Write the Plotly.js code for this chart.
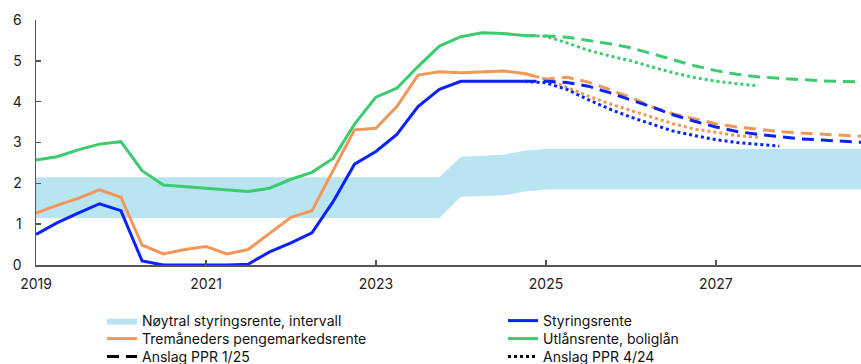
<!DOCTYPE html>
<html>
<head>
<meta charset="utf-8">
<script src="https://cdn.plot.ly/plotly-3.0.1.min.js"></script>
<style>
  html, body { margin: 0; padding: 0; background: #ffffff; }
  #chart { width: 861px; height: 364px; }
</style>
</head>
<body>
<div id="chart"></div>
<script>
// ---------- DATA ----------
const histDates = [
  '2019-01-01','2019-04-01','2019-07-01','2019-10-01',
  '2020-01-01','2020-04-01','2020-07-01','2020-10-01',
  '2021-01-01','2021-04-01','2021-07-01','2021-10-01',
  '2022-01-01','2022-04-01','2022-07-01','2022-10-01',
  '2023-01-01','2023-04-01','2023-07-01','2023-10-01',
  '2024-01-01','2024-04-01','2024-07-01','2024-10-01'
];
const styringsrente = [0.75, 1.03, 1.27, 1.50, 1.33, 0.10, 0.00, 0.00,
                       0.00, 0.00, 0.02, 0.32, 0.54, 0.79, 1.55, 2.47,
                       2.78, 3.20, 3.88, 4.30, 4.50, 4.50, 4.50, 4.50];
const tremaaneders = [1.27, 1.46, 1.63, 1.84, 1.66, 0.49, 0.27, 0.38,
                      0.45, 0.27, 0.38, 0.78, 1.17, 1.33, 2.33, 3.31,
                      3.35, 3.88, 4.65, 4.73, 4.71, 4.73, 4.75, 4.69];
const utlaansrente = [2.57, 2.65, 2.82, 2.96, 3.02, 2.31, 1.96, 1.92,
                      1.88, 1.84, 1.80, 1.88, 2.10, 2.27, 2.61, 3.45,
                      4.11, 4.33, 4.86, 5.36, 5.59, 5.69, 5.67, 5.62];

// Forecasts PPR 1/25 (from 2024 Q4 to 2028 Q4)
const ppr125Dates = [
  '2024-10-01',
  '2025-01-01','2025-04-01','2025-07-01','2025-10-01',
  '2026-01-01','2026-04-01','2026-07-01','2026-10-01',
  '2027-01-01','2027-04-01','2027-07-01','2027-10-01',
  '2028-01-01','2028-04-01','2028-07-01','2028-10-01'
];
const ppr125Styring = [4.50, 4.50, 4.47, 4.38, 4.22, 4.05, 3.87, 3.68, 3.52,
                       3.38, 3.27, 3.20, 3.14, 3.09, 3.06, 3.03, 3.00];
const ppr125Trem    = [4.69, 4.55, 4.60, 4.48, 4.30, 4.10, 3.88, 3.70, 3.58,
                       3.46, 3.38, 3.32, 3.27, 3.23, 3.20, 3.17, 3.15];
const ppr125Utlaan  = [5.62, 5.61, 5.58, 5.50, 5.42, 5.32, 5.18, 5.03, 4.88,
                       4.76, 4.67, 4.61, 4.57, 4.54, 4.51, 4.49, 4.48];

// Forecasts PPR 4/24
const ppr424Dates = [
  '2024-10-01',
  '2025-01-01','2025-04-01','2025-07-01','2025-10-01',
  '2026-01-01','2026-04-01','2026-07-01','2026-10-01',
  '2027-01-01','2027-04-01','2027-07-01','2027-10-01'
];
const ppr424Styring = [4.50, 4.46, 4.30, 4.05, 3.82, 3.62, 3.45, 3.28, 3.17,
                       3.07, 3.00, 2.95, 2.91];
const ppr424Trem    = [4.69, 4.55, 4.35, 4.14, 3.95, 3.78, 3.62, 3.46, 3.33,
                       3.24, 3.17, 3.13];
const ppr424Utlaan  = [5.62, 5.60, 5.44, 5.26, 5.12, 5.00, 4.85, 4.71, 4.59,
                       4.50, 4.44, 4.39];

// Neutral policy rate interval
const bandDates = [
  '2019-01-01','2023-10-01','2024-01-01','2024-04-01','2024-07-01','2024-10-01',
  '2025-01-01','2028-10-01'
];
const bandLower = [1.15, 1.15, 1.67, 1.69, 1.70, 1.80, 1.85, 1.85];
const bandUpper = [2.15, 2.15, 2.65, 2.68, 2.70, 2.80, 2.84, 2.84];

const legendNames = {
  band: 'Nøytral styringsrente, intervall',
  styr: 'Styringsrente',
  trem: 'Tremåneders pengemarkedsrente',
  utl: 'Utlånsrente, boliglån',
  p125: 'Anslag PPR 1/25',
  p424: 'Anslag PPR 4/24'
};

// ---------- STYLE ----------
const cBlue = '#0a22ff';
const cOrange = '#f2975a';
const cGreen = '#3ccb6e';
const cBand = '#b8e5f1';
const lw = 3;
const dashed = '12px,7px';
const dotted = '3px,3px';

const traces = [
  // band
  { x: bandDates, y: bandLower, type: 'scatter', mode: 'lines',
    line: { width: 0, color: cBand }, showlegend: false, hoverinfo: 'skip' },
  { x: bandDates, y: bandUpper, type: 'scatter', mode: 'lines', fill: 'tonexty',
    fillcolor: cBand, line: { width: 0, color: cBand },
    name: legendNames.band, legend: 'legend' },

  // forecasts PPR 4/24 (dotted)
  { x: ppr424Dates, y: ppr424Utlaan, mode: 'lines', line: { color: cGreen, width: lw, dash: dotted }, showlegend: false },
  { x: ppr424Dates, y: ppr424Trem, mode: 'lines', line: { color: cOrange, width: lw, dash: dotted }, showlegend: false },
  { x: ppr424Dates, y: ppr424Styring, mode: 'lines', line: { color: cBlue, width: lw, dash: dotted }, showlegend: false },

  // forecasts PPR 1/25 (dashed)
  { x: ppr125Dates, y: ppr125Utlaan, mode: 'lines', line: { color: cGreen, width: lw, dash: dashed }, showlegend: false },
  { x: ppr125Dates, y: ppr125Trem, mode: 'lines', line: { color: cOrange, width: lw, dash: dashed }, showlegend: false },
  { x: ppr125Dates, y: ppr125Styring, mode: 'lines', line: { color: cBlue, width: lw, dash: dashed }, showlegend: false },

  // history
  { x: histDates, y: utlaansrente, mode: 'lines', line: { color: cGreen, width: lw },
    name: legendNames.utl, legend: 'legend5' },
  { x: histDates, y: tremaaneders, mode: 'lines', line: { color: cOrange, width: lw },
    name: legendNames.trem, legend: 'legend2' },
  { x: histDates, y: styringsrente, mode: 'lines', line: { color: cBlue, width: lw },
    name: legendNames.styr, legend: 'legend4' },

  // legend-only entries
  { x: [null], y: [null], mode: 'lines', line: { color: '#000000', width: lw, dash: dashed },
    name: legendNames.p125, legend: 'legend3' },
  { x: [null], y: [null], mode: 'lines', line: { color: '#000000', width: lw, dash: dotted },
    name: legendNames.p424, legend: 'legend6' }
];

const fontFam = 'Inter, "Liberation Sans", Arial, sans-serif';
const legendFont = { family: fontFam, size: 14, color: '#111111' };

// legend placement (pixel positions converted to paper coords)
const plotL = 36, plotW = 825, plotB = 265, plotH = 245;
function mkLegend(px, py) {
  return {
    x: (px - plotL) / plotW, y: (plotB - py) / plotH,
    xanchor: 'left', yanchor: 'middle',
    orientation: 'v', bgcolor: 'rgba(0,0,0,0)', borderwidth: 0,
    font: legendFont, tracegroupgap: 0, itemwidth: 30
  };
}
const col1 = 102, col2 = 503;
const row1 = 321, row2 = 339, row3 = 357;

const layout = {
  width: 861, height: 364,
  margin: { l: 36, r: 0, t: 20, b: 99, autoexpand: false },
  paper_bgcolor: '#ffffff', plot_bgcolor: '#ffffff',
  font: { family: fontFam, size: 14, color: '#222222' },
  showlegend: true,
  xaxis: {
    type: 'date',
    range: ['2019-01-01', '2028-09-16'],
    tick0: '2019-01-01', dtick: 'M24', tickformat: '%Y',
    showline: true, linecolor: '#555555', linewidth: 1.5,
    ticks: 'inside', ticklen: 5, tickcolor: '#555555', tickwidth: 1.5,
    showgrid: false, zeroline: false,
    ticklabelstandoff: 6,
    tickfont: { family: fontFam, size: 14, color: '#222222' }
  },
  yaxis: {
    range: [0, 6], dtick: 1, tick0: 0,
    showline: true, linecolor: '#555555', linewidth: 1.5,
    ticks: 'inside', ticklen: 5, tickcolor: '#555555', tickwidth: 1.5,
    showgrid: false, zeroline: false,
    ticklabelstandoff: 10,
    tickfont: { family: fontFam, size: 14, color: '#222222' }
  },
  legend:  mkLegend(col1, row1),
  legend2: mkLegend(col1, row2),
  legend3: mkLegend(col1, row3),
  legend4: mkLegend(col2, row1),
  legend5: mkLegend(col2, row2),
  legend6: mkLegend(col2, row3)
};

Plotly.newPlot('chart', traces, layout, { displayModeBar: false, staticPlot: true });
</script>
</body>
</html>
